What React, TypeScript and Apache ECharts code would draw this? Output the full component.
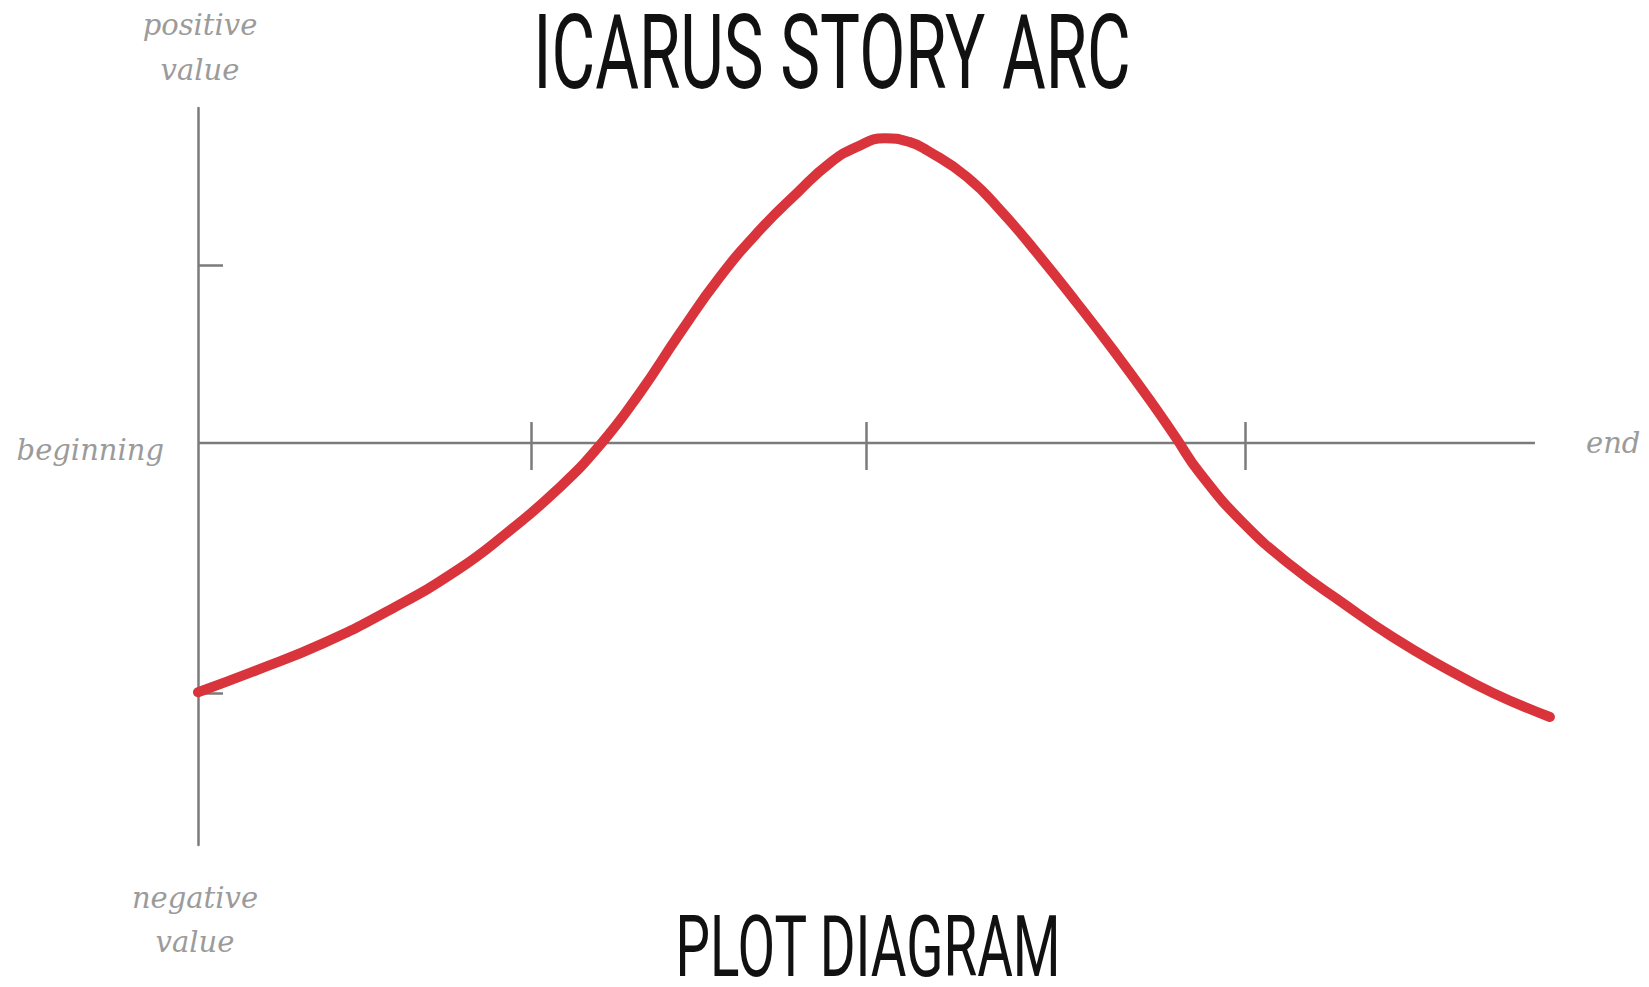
import React, { useEffect, useRef } from "react";
import * as echarts from "echarts";

// ---- data ----
const storyTime = [0, 4.41, 9.35, 14.36, 19.37, 23.11, 26.85, 30.07, 33.06, 36.05, 39.04, 42.03, 44.8, 47.27, 49.29, 51.38, 53.25, 54.52, 57.52, 60.21, 62.98, 65.74, 68.44, 71.2, 73.07, 74.94, 78.16, 81.9, 85.64, 89.38, 93.12, 96.86, 101.12];
const fortune = [-3.72, -3.39, -2.99, -2.49, -1.9, -1.34, -0.7, -0.03, 0.75, 1.64, 2.48, 3.18, 3.73, 4.18, 4.42, 4.55, 4.49, 4.37, 3.97, 3.43, 2.78, 2.09, 1.39, 0.64, 0.1, -0.45, -1.19, -1.85, -2.39, -2.9, -3.34, -3.73, -4.09];
const xTicks = [24.9, 50.0, 78.3];
const yTicks = [2.66, -3.73];
const baselineExtent = [0, 100];
const xRange = [0, 101.2];
const yRange = [-6, 5];

const titleText = "ICARUS STORY ARC";
const subtitleText = "PLOT DIAGRAM";
const startLabel = "beginning";
const endLabel = "end";
const topLabel = ["positive", "value"];
const bottomLabel = ["negative", "value"];

const AXIS_COLOR = "#7b7b7b";
const LABEL_COLOR = "#9b9b9b";
const LINE_COLOR = "#d9343b";
const SERIF = "'DejaVu Serif', serif";
const CONDENSED = "Roboto, 'Noto Sans', sans-serif";

export default function App() {
  const ref = useRef<HTMLDivElement>(null);

  useEffect(() => {
    if (!ref.current) return;
    const chart = echarts.init(ref.current, undefined, { renderer: "svg" });

    const labelStyle = (text: string, align: string) => ({
      text,
      fill: LABEL_COLOR,
      font: `italic 29px ${SERIF}`,
      align,
      verticalAlign: "middle",
    });

    const xAxisCommon = {
      type: "value",
      min: xRange[0],
      max: xRange[1],
      axisLabel: { show: false },
      splitLine: { show: false },
    };

    chart.setOption({
      animation: false,
      backgroundColor: "#ffffff",
      grid: { left: 198, top: 108, width: 1353, height: 737, containLabel: false },
      xAxis: [
        {
          ...xAxisCommon,
          position: "bottom",
          axisLine: { show: false, onZero: true, onZeroAxisIndex: 0 },
          axisTick: { show: true, inside: false, length: 27, customValues: xTicks, lineStyle: { color: AXIS_COLOR, width: 2.5 } },
        },
        {
          ...xAxisCommon,
          position: "top",
          axisLine: { show: false, onZero: true, onZeroAxisIndex: 0 },
          axisTick: { show: true, inside: false, length: 21, customValues: xTicks, lineStyle: { color: AXIS_COLOR, width: 2.5 } },
        },
      ],
      yAxis: {
        type: "value",
        min: yRange[0],
        max: yRange[1],
        axisLine: { show: true, onZero: true, lineStyle: { color: AXIS_COLOR, width: 2.5 } },
        axisTick: { show: true, inside: true, length: 25, customValues: yTicks, lineStyle: { color: AXIS_COLOR, width: 2.5 } },
        axisLabel: { show: false },
        splitLine: { show: false },
      },
      series: [
        {
          name: "timeline",
          type: "line",
          xAxisIndex: 0,
          yAxisIndex: 0,
          data: baselineExtent.map((x) => [x, 0]),
          symbol: "none",
          silent: true,
          z: 1,
          lineStyle: { color: AXIS_COLOR, width: 2.5 },
        },
        {
          name: "Icarus",
          type: "line",
          xAxisIndex: 0,
          yAxisIndex: 0,
          data: storyTime.map((x, i) => [x, fortune[i]]),
          smooth: 0.5,
          symbol: "none",
          clip: false,
          z: 5,
          lineStyle: { color: LINE_COLOR, width: 10, cap: "round", join: "round" },
        },
      ],
      graphic: [
        {
          type: "text",
          x: 832,
          y: 52,
          scaleX: 0.645,
          style: { text: titleText, fill: "#111111", font: `400 104px ${CONDENSED}`, align: "center", verticalAlign: "middle" },
        },
        {
          type: "text",
          x: 868,
          y: 947,
          scaleX: 0.636,
          style: { text: subtitleText, fill: "#111111", font: `400 86px ${CONDENSED}`, align: "center", verticalAlign: "middle" },
        },
        { type: "text", x: 164, y: 450, style: labelStyle(startLabel, "right") },
        { type: "text", x: 1586, y: 443, style: labelStyle(endLabel, "left") },
        { type: "text", x: 200, y: 25, style: labelStyle(topLabel[0], "center") },
        { type: "text", x: 200, y: 70, style: labelStyle(topLabel[1], "center") },
        { type: "text", x: 195, y: 898, style: labelStyle(bottomLabel[0], "center") },
        { type: "text", x: 195, y: 942, style: labelStyle(bottomLabel[1], "center") },
      ],
    });

    return () => chart.dispose();
  }, []);

  return (
    <div
      ref={ref}
      style={{ position: "fixed", left: 0, top: 0, width: 1649, height: 987, background: "#fff" }}
    />
  );
}
